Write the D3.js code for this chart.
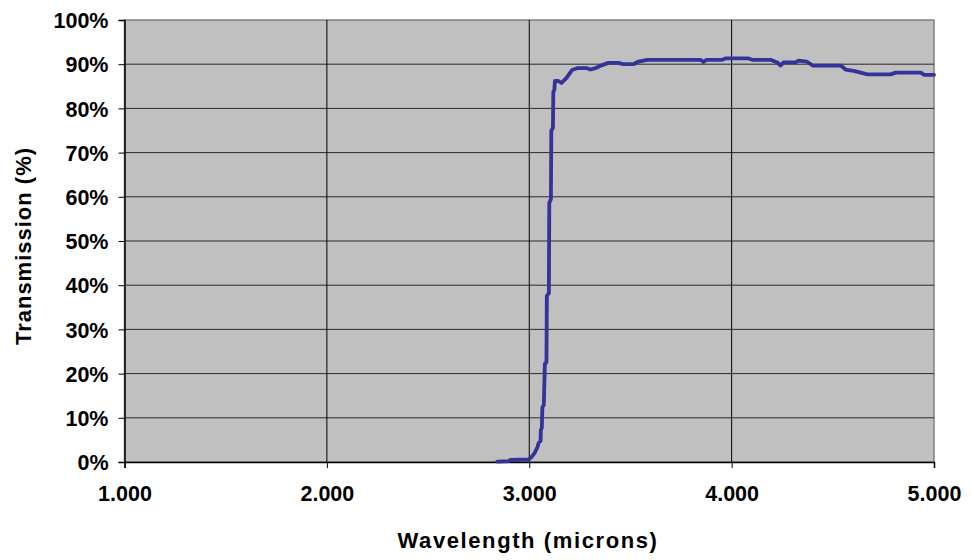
<!DOCTYPE html>
<html>
<head>
<meta charset="utf-8">
<script src="https://cdn.jsdelivr.net/npm/d3@7"></script>
<style>
  html, body { margin: 0; padding: 0; background: #fff; }
  svg { display: block; }
  text { font-family: "Liberation Sans", Arial, sans-serif; font-weight: bold; fill: #000; }
</style>
</head>
<body>
<svg id="chart" width="972" height="560"></svg>
<script>
// Wavelength (microns) and transmission (%) of the measured spectrum
const wavelength = [
  2.842, 2.897, 2.907, 2.996, 3.011, 3.026, 3.041, 3.046, 3.056, 3.057,
  3.062, 3.065, 3.072, 3.077, 3.085, 3.087, 3.097, 3.099, 3.107, 3.109,
  3.117, 3.119, 3.124, 3.127, 3.144, 3.159, 3.184, 3.212, 3.236, 3.286,
  3.302, 3.327, 3.360, 3.391, 3.441, 3.465, 3.515, 3.540, 3.583, 3.846,
  3.861, 3.876, 3.953, 3.970, 4.084, 4.102, 4.192, 4.226, 4.242, 4.257,
  4.316, 4.331, 4.371, 4.400, 4.539, 4.563, 4.603, 4.671, 4.786, 4.811,
  4.935, 4.950, 5.000
];
const transmission = [
  0.1, 0.2, 0.45, 0.57, 1.1, 2.0, 3.4, 4.3, 4.75, 7.2,
  7.7, 12.4, 12.9, 22.2, 22.6, 37.6, 38.2, 58.6, 59.5, 74.9,
  75.6, 83.7, 84.2, 86.2, 86.2, 85.75, 86.9, 88.7, 89.1, 89.1,
  88.8, 89.1, 89.8, 90.3, 90.3, 90.0, 90.0, 90.6, 91.0, 91.0,
  90.5, 91.0, 91.0, 91.3, 91.3, 91.0, 91.0, 90.4, 89.7, 90.4,
  90.4, 90.8, 90.6, 89.7, 89.7, 88.8, 88.5, 87.7, 87.7, 88.1,
  88.1, 87.6, 87.6
];

const xTicks = [1, 2, 3, 4, 5];
const yTicks = [0, 10, 20, 30, 40, 50, 60, 70, 80, 90, 100];

const svg = d3.select("#chart");
const margin = { left: 124.5, right: 38, top: 20, bottom: 98 };
const W = 972, H = 560;

const x = d3.scaleLinear().domain([1, 5]).range([margin.left, W - margin.right]);
const y = d3.scaleLinear().domain([0, 100]).range([H - margin.bottom, margin.top]);

// Plot area background
svg.append("rect")
  .attr("x", x(1)).attr("y", y(100))
  .attr("width", x(5) - x(1)).attr("height", y(0) - y(100))
  .attr("fill", "#c0c0c0")
  .attr("stroke", "#808080").attr("stroke-width", 1.5);

// Horizontal gridlines
svg.append("g")
  .selectAll("line")
  .data(yTicks.filter(d => d > 0 && d < 100))
  .join("line")
  .attr("x1", x(1)).attr("x2", x(5))
  .attr("y1", d => y(d)).attr("y2", d => y(d))
  .attr("stroke", "#2a2a2a").attr("stroke-width", 1);

// Vertical gridlines
svg.append("g")
  .selectAll("line")
  .data(xTicks.filter(d => d > 1 && d < 5))
  .join("line")
  .attr("x1", d => x(d)).attr("x2", d => x(d))
  .attr("y1", y(0)).attr("y2", y(100))
  .attr("stroke", "#000").attr("stroke-width", 1);

// Y axis
const yAxis = svg.append("g")
  .attr("transform", `translate(${x(1)},0)`)
  .call(d3.axisLeft(y).tickValues(yTicks).tickFormat(d => d + "%").tickSize(6).tickPadding(10));
yAxis.select(".domain").attr("stroke", "#000").attr("stroke-width", 1.5);
yAxis.selectAll(".tick line").attr("stroke", "#000");
yAxis.selectAll(".tick text")
  .attr("font-size", 21.5).attr("font-family", "Liberation Sans, Arial, sans-serif")
  .attr("font-weight", "bold").attr("fill", "#000").attr("dy", "0.36em");

// X axis
const xAxis = svg.append("g")
  .attr("transform", `translate(0,${y(0)})`)
  .call(d3.axisBottom(x).tickValues(xTicks).tickFormat(d3.format(".3f")).tickSize(6).tickPadding(18));
xAxis.select(".domain").attr("stroke", "#000").attr("stroke-width", 1.5);
xAxis.selectAll(".tick line").attr("stroke", "#000");
xAxis.selectAll(".tick text")
  .attr("font-size", 21.5).attr("font-family", "Liberation Sans, Arial, sans-serif")
  .attr("font-weight", "bold").attr("fill", "#000");

// Transmission curve
const pts = wavelength.map((w, i) => [w, transmission[i]]);
svg.append("path")
  .datum(pts)
  .attr("fill", "none")
  .attr("stroke", "#333399")
  .attr("stroke-width", 3.8)
  .attr("stroke-linejoin", "round")
  .attr("stroke-linecap", "round")
  .attr("d", d3.line().x(d => x(d[0])).y(d => y(d[1])));

// Axis titles
svg.append("text")
  .attr("x", 528).attr("y", 548)
  .attr("text-anchor", "middle")
  .attr("font-size", 22)
  .attr("letter-spacing", 1.6)
  .text("Wavelength (microns)");

svg.append("text")
  .attr("transform", "translate(31,246) rotate(-90)")
  .attr("text-anchor", "middle")
  .attr("font-size", 22)
  .attr("letter-spacing", 1)
  .text("Transmission (%)");
</script>
</body>
</html>
